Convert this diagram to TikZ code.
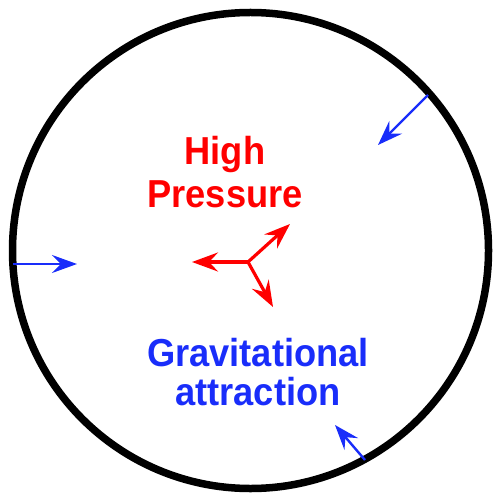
\documentclass[tikz,border=0pt]{standalone}
\usepackage{fontspec}
\setmainfont{Liberation Sans}
\usetikzlibrary{arrows.meta}

\definecolor{hpred}{RGB}{255,0,0}
\definecolor{gravblue}{RGB}{25,45,250}

\tikzset{
    label/.style={font=\fontsize{39}{42}\selectfont\bfseries, anchor=base, inner sep=0pt, xscale=0.93},
    push/.style={hpred, line width=3.2pt, -{Stealth[length=26pt,width=19pt,inset=9pt]}},
    pull/.style={gravblue, line width=2.4pt, -{Stealth[length=25pt,width=18pt,inset=9pt]}}
}

\begin{document}
\begin{tikzpicture}[x=1pt,y=-1pt]
    \useasboundingbox (0,0) rectangle (493,494);
    % Star boundary
    \draw[black, line width=7.5pt] (250.5,250.5) circle (238);

    % Labels
    \node[label, hpred] (high) at (225,165) {High};
    \node[label, hpred] (pressure) at (225,207) {Pressure};
    \node[label, gravblue] (grav) at (258,366) {Gravitational};
    \node[label, gravblue] (attr) at (258,405) {attraction};

    % Pressure pushing outwards from the core
    \coordinate (core) at (248,262);
    \coordinate (outL) at (192,262);
    \coordinate (outUR) at (290,224);
    \coordinate (outDR) at (273,307);
    \draw[push] (core) -- (outL);
    \draw[push] (core) -- (outUR);
    \draw[push] (core) -- (outDR);

    % Gravity pulling inwards from the edge
    \coordinate (edgeL) at (13,264);
    \coordinate (inL) at (77,264);
    \coordinate (edgeUR) at (428,95);
    \coordinate (inUR) at (378,145);
    \coordinate (edgeB) at (365,460);
    \coordinate (inB) at (335,425);
    \draw[pull] (edgeL) -- (inL);
    \draw[pull] (edgeUR) -- (inUR);
    \draw[pull] (edgeB) -- (inB);
\end{tikzpicture}
\end{document}
